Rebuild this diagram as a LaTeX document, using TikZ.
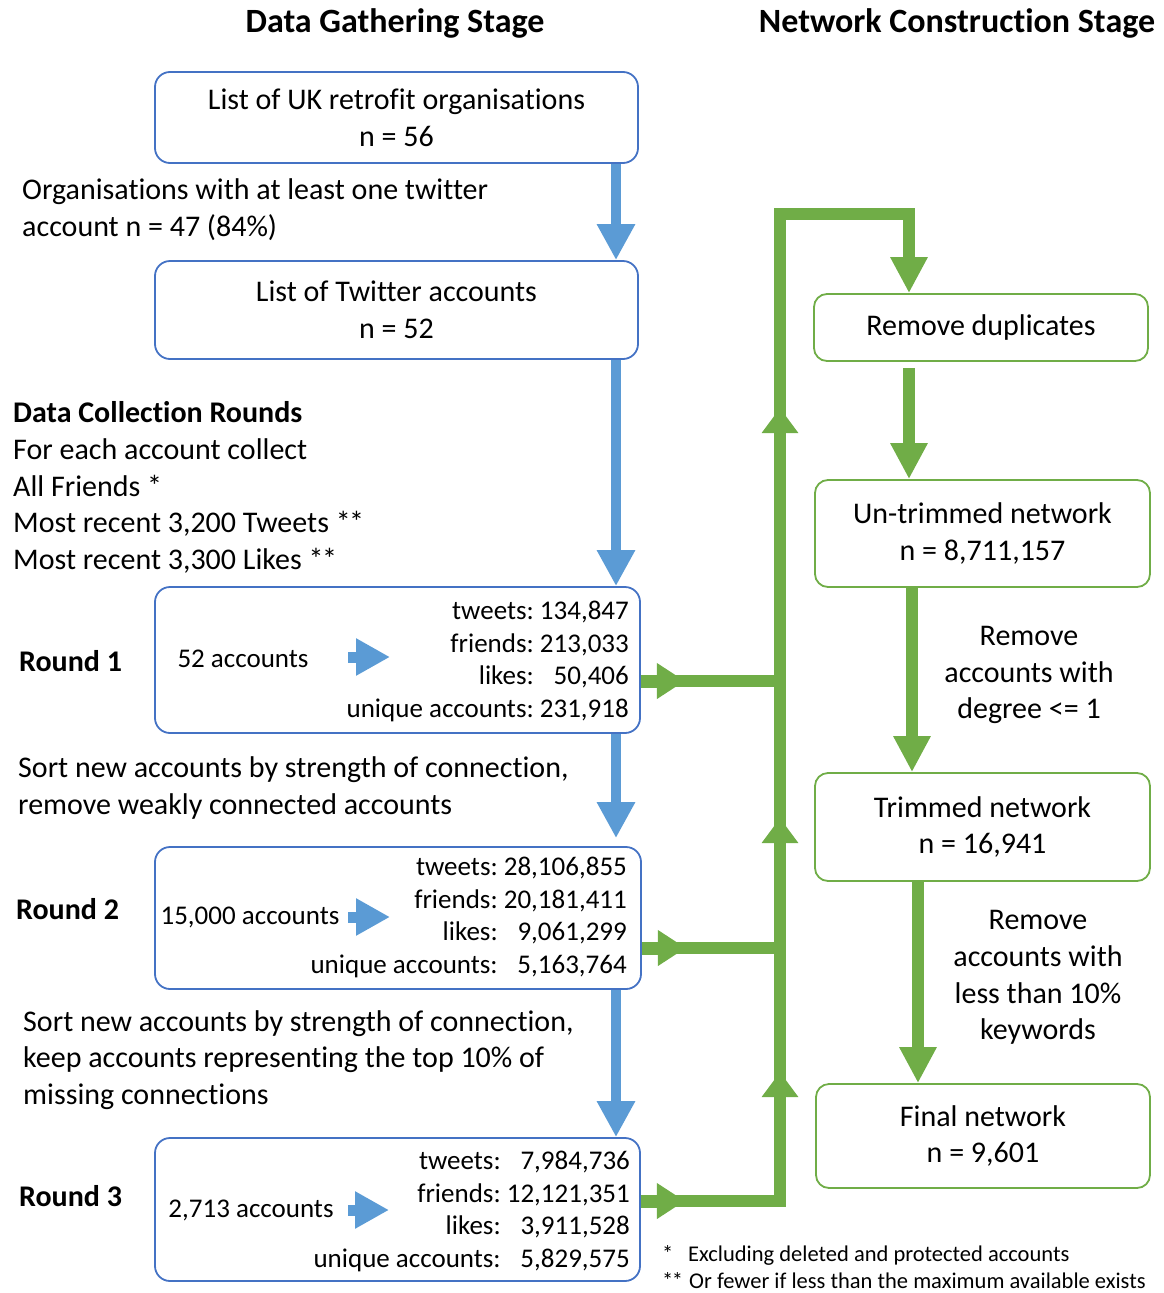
\documentclass[tikz,border=0pt]{standalone}
\usepackage{fontspec}
\setmainfont{Carlito}[Ligatures={NoCommon}]
\usetikzlibrary{arrows.meta}
\definecolor{boxblue}{HTML}{4472C4}
\definecolor{arrblue}{HTML}{5B9BD5}
\definecolor{grn}{HTML}{70AD47}
\newcommand\mainfnt{\fontsize{30}{36.8}\selectfont}
\newcommand\statfnt{\fontsize{27}{32.5}\selectfont}
\newcommand\titlefnt{\fontsize{34}{40}\selectfont\bfseries}
\newcommand\footfnt{\fontsize{22.5}{27}\selectfont}
\newcommand\dstar{*\kern-1.5pt*}
\begin{document}
\begin{tikzpicture}[x=1pt,y=-1pt,
  bbox/.style={draw=boxblue, line width=1.8pt, rounded corners=15pt, inner sep=0pt, align=center, font=\mainfnt},
  gbox/.style={draw=grn, line width=1.8pt, rounded corners=13pt, inner sep=0pt, align=center, font=\mainfnt},
  barrow/.style={draw=arrblue, line width=10pt, -{Triangle[width=36pt,length=36pt]}},
  bsmall/.style={draw=arrblue, line width=11pt, -{Triangle[width=35pt,length=34pt]}},
  gline/.style={draw=grn, line width=12pt, line join=miter},
  gdown/.style={draw=grn, line width=12pt, -{Triangle[width=35pt,length=36pt]}},
  gup/.style={draw=grn, line width=12pt, -{Triangle[width=35pt,length=25pt]}},
  gright/.style={draw=grn, line width=13pt, -{Triangle[width=34pt,length=28pt]}},
  lefttxt/.style={anchor=west, align=left, inner sep=0pt, font=\mainfnt},
  roundlbl/.style={anchor=west, inner sep=0pt, font=\mainfnt\bfseries},
  acctxt/.style={inner sep=0pt, font=\statfnt},
  stattxt/.style={anchor=east, inner sep=0pt, font=\statfnt},
  titletxt/.style={inner sep=0pt, font=\titlefnt}
]
\useasboundingbox (0,0) rectangle (1163,1293);

% titles
\node[titletxt] (t1) at (395,23) {Data Gathering Stage};
\node[titletxt] (t2) at (957,23) {Network Construction Stage};

% blue boxes
\node[bbox, minimum width=483pt, minimum height=91pt] (b1) at (396.5,117.5)
  {List of UK retrofit organisations\\n = 56};
\node[bbox, minimum width=483pt, minimum height=98pt] (b2) at (396.5,310)
  {List of Twitter accounts\\n = 52};
\node[bbox, minimum width=485pt, minimum height=146pt] (r1) at (397.5,660) {};
\node[bbox, minimum width=486pt, minimum height=142pt] (r2) at (398,918) {};
\node[bbox, minimum width=485pt, minimum height=143pt] (r3) at (397.5,1209.5) {};

% round contents
\node[acctxt] (a1) at (243,659) {52 accounts};
\node[acctxt] (a2) at (250,917) {15,000 accounts};
\node[acctxt] (a3) at (251,1210) {2,713 accounts};
\draw[bsmall] (348,657) -- (390,657);
\draw[bsmall] (348,917) -- (390,917);
\draw[bsmall] (348,1210) -- (389,1210);
\node[stattxt] (s1) at (629,662) {\begin{tabular}{@{}r@{\ }r@{}}tweets: & 134,847\\ friends: & 213,033\\ likes: & 50,406\\ unique accounts: & 231,918\end{tabular}};
\node[stattxt] (s2) at (627,918) {\begin{tabular}{@{}r@{\ }r@{}}tweets: & 28,106,855\\ friends: & 20,181,411\\ likes: & 9,061,299\\ unique accounts: & 5,163,764\end{tabular}};
\node[stattxt] (s3) at (630,1212) {\begin{tabular}{@{}r@{\ }r@{}}tweets: & 7,984,736\\ friends: & 12,121,351\\ likes: & 3,911,528\\ unique accounts: & 5,829,575\end{tabular}};

% left texts
\node[lefttxt] (org) at (22,210) {Organisations with at least one twitter\\account n = 47 (84\%)};
\node[lefttxt] (dcr) at (13,487.5) {\textbf{Data Collection Rounds}\\For each account collect\\All Friends *\\Most recent 3,200 Tweets \dstar\\Most recent 3,300 Likes \dstar};
\node[roundlbl] (rl1) at (19,661) {Round 1};
\node[roundlbl] (rl2) at (16,909) {Round 2};
\node[roundlbl] (rl3) at (19,1196) {Round 3};
\node[lefttxt] (sort1) at (18,788) {Sort new accounts by strength of connection,\\remove weakly connected accounts};
\node[lefttxt] (sort2) at (23,1060) {Sort new accounts by strength of connection,\\keep accounts representing the top 10\% of\\missing connections};

% blue arrows
\coordinate (bx) at (616,0);
\draw[barrow] (b1.south -| bx) -- (b2.north -| bx);
\draw[barrow] (b2.south -| bx) -- (r1.north -| bx);
\draw[barrow, shorten >=8pt] (r1.south -| bx) -- (r2.north -| bx);
\draw[barrow] (r2.south -| bx) -- (r3.north -| bx);

% green boxes
\node[gbox, minimum width=334pt, minimum height=67pt] (dup) at (981,327.5) {Remove duplicates};
\node[gbox, minimum width=335pt, minimum height=107pt] (unt) at (982.5,533.5) {Un-trimmed network\\n = 8,711,157};
\node[gbox, minimum width=335pt, minimum height=108pt] (trim) at (982.5,827) {Trimmed network\\n = 16,941};
\node[gbox, minimum width=334pt, minimum height=104pt] (fin) at (983,1136) {Final network\\n = 9,601};

\node[inner sep=0pt, align=center, font=\mainfnt] (lab1) at (1029,675) {Remove\\accounts with\\degree <= 1};
\node[inner sep=0pt, align=center, font=\mainfnt] (lab2) at (1038,977.5) {Remove\\accounts with\\less than 10\%\\keywords};

% green arrows between boxes
\coordinate (g1) at (909,0);
\coordinate (g2) at (912,0);
\coordinate (g3) at (918,0);
\draw[gdown, shorten <=6pt] (dup.south -| g1) -- (unt.north -| g1);
\draw[gdown] (unt.south -| g2) -- (trim.north -| g2);
\draw[gdown] (trim.south -| g3) -- (fin.north -| g3);

% green trunk
\coordinate (j1) at (780,681);
\coordinate (j2) at (780,948);
\coordinate (j3) at (780,1201);
\coordinate (tc1) at (780,214);
\coordinate (tc2) at (909,214);
\draw[gline] (r3.east |- j3) -- (j3) -- (tc1) -- (tc2) -- ++(0,40);
\draw[gdown] (tc2) -- (dup.north -| tc2);
\draw[gline] (r1.east |- j1) -- (j1);
\draw[gline] (r2.east |- j2) -- (j2);
\draw[gright] (r1.east |- j1) -- ++(44,0);
\draw[gright] (r2.east |- j2) -- ++(44,0);
\draw[gright] (r3.east |- j3) -- ++(44,0);
\coordinate (u1) at (780,408);
\coordinate (u2) at (780,818);
\coordinate (u3) at (780,1072);
\draw[gup] (780,450) -- (u1);
\draw[gup] (780,860) -- (u2);
\draw[gup] (780,1114) -- (u3);

% footnotes
\node[anchor=west, inner sep=0pt, font=\footfnt] (fn1) at (662,1255) {\makebox[26pt][l]{*}Excluding deleted and protected accounts};
\node[anchor=west, inner sep=0pt, font=\footfnt] (fn2) at (662,1281) {\makebox[27pt][l]{\dstar}Or fewer if less than the maximum available exists};
\end{tikzpicture}
\end{document}
